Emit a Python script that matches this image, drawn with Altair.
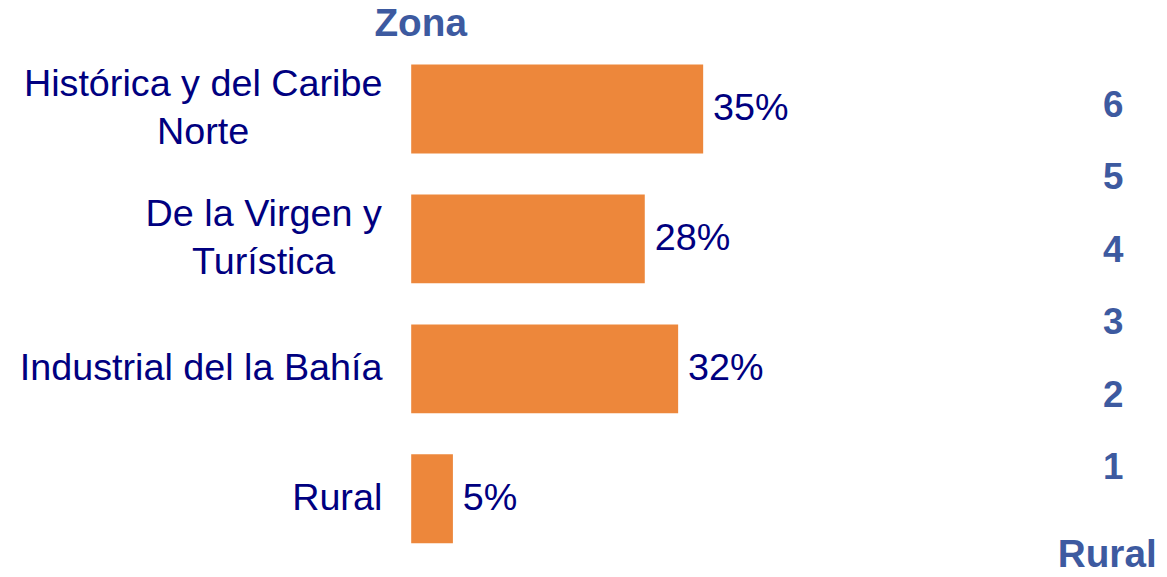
import altair as alt
import pandas as pd

zonas = ["Histórica y del Caribe|Norte", "De la Virgen y|Turística",
         "Industrial del la Bahía", "Rural"]
porcentajes = [0.35, 0.28, 0.32, 0.05]
estratos = [6, 5, 4, 3, 2, 1]
titulo_derecha = ["Rural"]

NAVY = "#000080"
BLUE = "#3D5AA0"
ORANGE = "#ED873B"
FONT = "Liberation Sans"

df = pd.DataFrame({"zona": zonas, "pct": porcentajes})
df_e = pd.DataFrame({"estrato": estratos, "lbl": [str(e) for e in estratos]})
df_r = pd.DataFrame({"t": titulo_derecha})

pad_cond = {
    "condition": [
        {"test": "datum.value === 'Rural'", "value": 75},
        {"test": "datum.value === 'De la Virgen y|Turística'", "value": 149},
        {"test": "datum.value === 'Industrial del la Bahía'", "value": 212},
    ],
    "value": 210,
}
off_cond = {
    "condition": [
        {"test": "indexof(datum.value, '|') >= 0", "value": -24},
    ],
    "value": 0,
}

y_enc = alt.Y(
    "zona:N", sort=zonas, title=None,
    scale=alt.Scale(paddingInner=0.316, paddingOuter=0, round=False),
    axis=alt.Axis(
        labelExpr="split(datum.value, '|')",
        labelFont=FONT, labelFontSize=38, labelColor=NAVY,
        labelAlign="center", labelBaseline="middle", labelLineHeight=48,
        labelPadding=pad_cond, labelOffset=off_cond, labelLimit=0,
        ticks=False, tickSize=0, domain=False, grid=False,
    ),
)
x_enc = alt.X("pct:Q", scale=alt.Scale(domain=[0, 0.7]), axis=None)

bars = alt.Chart(df).mark_bar(color=ORANGE).encode(x=x_enc, y=y_enc)
vals = alt.Chart(df).mark_text(
    align="left", baseline="middle", dx=10, font=FONT, fontSize=38, color=NAVY
).encode(x=x_enc, y=alt.Y("zona:N", sort=zonas), text=alt.Text("pct:Q", format=".0%"))

digits = alt.Chart(df_e).mark_text(
    align="center", baseline="middle", font=FONT, fontSize=37,
    fontWeight="bold", color=BLUE
).encode(
    x=alt.value(707),
    y=alt.Y("estrato:Q", scale=alt.Scale(domain=[-0.03, 6.57]), axis=None),
    text="lbl:N",
)
rural = alt.Chart(df_r).mark_text(
    align="left", baseline="alphabetic", font=FONT, fontSize=39,
    fontWeight="bold", color=BLUE
).encode(x=alt.value(651), y=alt.value(506), text="t:N")

main = alt.layer(bars, vals)
chart = alt.layer(main, digits, rural).resolve_scale(y="independent").properties(
    width=588, height=482,
    autosize=alt.AutoSizeParams(type="none"),
    padding={"left": 406, "top": 55, "right": 165, "bottom": 24},
    title=alt.TitleParams(
        "Zona", anchor="start", frame="group", dx=-37, offset=21,
        font=FONT, fontSize=39, fontWeight="bold", color=BLUE,
    ),
).configure_view(stroke=None)

chart.save("out.html", embed_options={"renderer": "svg", "actions": False})
